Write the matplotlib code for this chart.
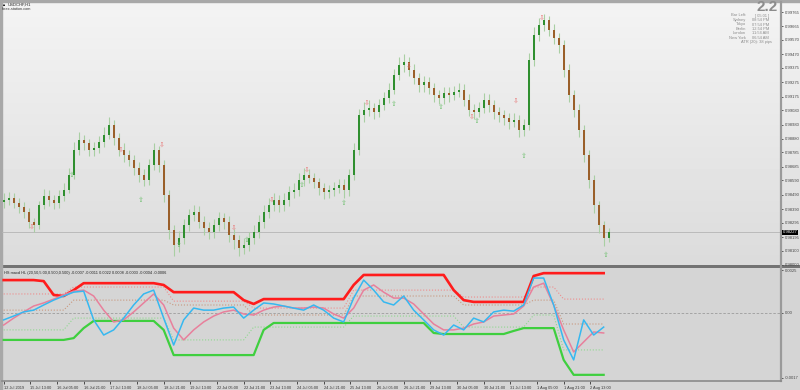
import numpy as np
import matplotlib
matplotlib.use("Agg")
from matplotlib import pyplot as plt
from matplotlib.patches import Rectangle

plt.rcParams['font.family'] = ['Liberation Sans', 'DejaVu Sans']

# ---- price data (3-hour candles built from the H1 chart), USDCHF ----
close = [0.98453, 0.98467, 0.98432, 0.98404, 0.98369, 0.98299, 0.98279, 0.98418, 0.98481, 0.98453,
         0.98432, 0.98481, 0.98523, 0.98628, 0.98802, 0.98872, 0.98851, 0.98802, 0.98816, 0.98858,
         0.98907, 0.98977, 0.98886, 0.98802, 0.98767, 0.98732, 0.98676, 0.98628, 0.98593, 0.98697,
         0.98802, 0.98697, 0.98488, 0.98244, 0.98139, 0.98188, 0.98279, 0.98348, 0.98369, 0.98299,
         0.98258, 0.98230, 0.98279, 0.98327, 0.98299, 0.98209, 0.98174, 0.98118, 0.98139, 0.98188,
         0.98230, 0.98299, 0.98369, 0.98418, 0.98453, 0.98418, 0.98453, 0.98509, 0.98523, 0.98593,
         0.98628, 0.98607, 0.98579, 0.98537, 0.98509, 0.98523, 0.98537, 0.98558, 0.98523, 0.98628,
         0.98802, 0.99046, 0.99081, 0.99095, 0.99067, 0.99116, 0.99165, 0.99221, 0.99326, 0.99395,
         0.99416, 0.99360, 0.99305, 0.99256, 0.99277, 0.99235, 0.99186, 0.99165, 0.99200, 0.99186,
         0.99207, 0.99221, 0.99151, 0.99081, 0.99067, 0.99095, 0.99151, 0.99116, 0.99067, 0.99046,
         0.99025, 0.98997, 0.99011, 0.98942, 0.98977, 0.99430, 0.99605, 0.99675, 0.99709, 0.99639,
         0.99584, 0.99535, 0.99360, 0.99186, 0.99081, 0.98942, 0.98767, 0.98593, 0.98418, 0.98279,
         0.98188, 0.98227]
high = [0.98500, 0.98510, 0.98505, 0.98470, 0.98440, 0.98400, 0.98330, 0.98450, 0.98530, 0.98520,
        0.98490, 0.98520, 0.98570, 0.98680, 0.98860, 0.98930, 0.98910, 0.98880, 0.98860, 0.98900,
        0.98960, 0.99030, 0.99010, 0.98920, 0.98850, 0.98800, 0.98770, 0.98720, 0.98670, 0.98740,
        0.98850, 0.98830, 0.98730, 0.98520, 0.98280, 0.98240, 0.98320, 0.98390, 0.98420, 0.98410,
        0.98340, 0.98300, 0.98320, 0.98370, 0.98360, 0.98340, 0.98250, 0.98210, 0.98190, 0.98230,
        0.98280, 0.98350, 0.98420, 0.98470, 0.98500, 0.98490, 0.98500, 0.98550, 0.98570, 0.98640,
        0.98680, 0.98670, 0.98640, 0.98610, 0.98570, 0.98560, 0.98580, 0.98600, 0.98600, 0.98670,
        0.98850, 0.99090, 0.99140, 0.99150, 0.99130, 0.99160, 0.99210, 0.99270, 0.99370, 0.99450,
        0.99470, 0.99450, 0.99400, 0.99340, 0.99320, 0.99310, 0.99270, 0.99220, 0.99240, 0.99240,
        0.99250, 0.99270, 0.99260, 0.99190, 0.99120, 0.99140, 0.99200, 0.99190, 0.99150, 0.99100,
        0.99080, 0.99060, 0.99060, 0.99050, 0.99020, 0.99480, 0.99660, 0.99720, 0.99750, 0.99740,
        0.99680, 0.99620, 0.99570, 0.99400, 0.99220, 0.99120, 0.98980, 0.98800, 0.98630, 0.98450,
        0.98310, 0.98260]
low = [0.98400, 0.98420, 0.98395, 0.98365, 0.98330, 0.98260, 0.98230, 0.98250, 0.98390, 0.98410,
       0.98390, 0.98400, 0.98450, 0.98500, 0.98600, 0.98770, 0.98800, 0.98760, 0.98760, 0.98780,
       0.98820, 0.98880, 0.98840, 0.98760, 0.98720, 0.98690, 0.98630, 0.98580, 0.98550, 0.98560,
       0.98660, 0.98650, 0.98440, 0.98180, 0.98060, 0.98090, 0.98150, 0.98240, 0.98310, 0.98260,
       0.98210, 0.98180, 0.98190, 0.98240, 0.98250, 0.98160, 0.98110, 0.98060, 0.98080, 0.98100,
       0.98150, 0.98190, 0.98260, 0.98330, 0.98380, 0.98370, 0.98380, 0.98410, 0.98470, 0.98480,
       0.98550, 0.98570, 0.98540, 0.98490, 0.98460, 0.98470, 0.98480, 0.98500, 0.98470, 0.98480,
       0.98590, 0.98770, 0.99000, 0.99040, 0.99020, 0.99030, 0.99080, 0.99130, 0.99190, 0.99290,
       0.99350, 0.99320, 0.99260, 0.99210, 0.99210, 0.99190, 0.99140, 0.99120, 0.99120, 0.99140,
       0.99150, 0.99170, 0.99110, 0.99040, 0.99020, 0.99030, 0.99060, 0.99070, 0.99020, 0.99000,
       0.98980, 0.98950, 0.98960, 0.98890, 0.98900, 0.98940, 0.99390, 0.99560, 0.99630, 0.99600,
       0.99540, 0.99480, 0.99310, 0.99140, 0.99030, 0.98890, 0.98720, 0.98540, 0.98360, 0.98220,
       0.98130, 0.98160]
first_open = 0.98440

# signal arrows (H1 bar index, price)
sell_h = [17, 70, 95, 138, 161, 182, 218, 243, 281, 307, 323]
sell_p = [0.98265, 0.98802, 0.98837, 0.98258, 0.98453, 0.98662, 0.99130, 0.99388, 0.99032, 0.99144, 0.99723]
buy_h = [41, 82, 105, 146, 179, 204, 234, 262, 284, 312, 361]
buy_p = [0.98628, 0.98453, 0.98139, 0.98174, 0.98558, 0.98432, 0.99123, 0.99102, 0.99004, 0.98760, 0.98069]

price_ticks = [0.99765, 0.99665, 0.99570, 0.99470, 0.99375, 0.99275, 0.99175, 0.99080, 0.98980,
               0.98880, 0.98785, 0.98685, 0.98590, 0.98490, 0.98390, 0.98295, 0.98195, 0.98100, 0.98000]

date_labels = ["12 Jul 2019", "15 Jul 13:00", "16 Jul 05:00", "16 Jul 21:00", "17 Jul 13:00",
               "18 Jul 05:00", "18 Jul 21:00", "19 Jul 13:00", "22 Jul 05:00", "22 Jul 21:00",
               "23 Jul 13:00", "24 Jul 05:00", "24 Jul 21:00", "25 Jul 13:00", "26 Jul 05:00",
               "26 Jul 21:00", "29 Jul 13:00", "30 Jul 05:00", "30 Jul 21:00", "31 Jul 13:00",
               "1 Aug 05:00", "1 Aug 21:00", "2 Aug 13:00"]

# ---- indicator (one value every 6 H1 bars) ----
band_hi = [0.00211, 0.00211, 0.00211, 0.00211, 0.00207, 0.00153, 0.00149, 0.00172, 0.00199, 0.00199,
           0.00199, 0.00199, 0.00199, 0.00199, 0.00199, 0.00199, 0.00192, 0.00164, 0.00164, 0.00164,
           0.00164, 0.00164, 0.00164, 0.00164, 0.00133, 0.00118, 0.00137, 0.00137, 0.00137, 0.00137,
           0.00137, 0.00137, 0.00137, 0.00137, 0.00137, 0.00192, 0.00231, 0.00231, 0.00231, 0.00231,
           0.00231, 0.00231, 0.00231, 0.00231, 0.00231, 0.00172, 0.00133, 0.00126, 0.00126, 0.00126,
           0.00126, 0.00126, 0.00126, 0.00227, 0.00238, 0.00238, 0.00238, 0.00238, 0.00238, 0.00238,
           0.00238]
band_lo = [-0.00022, -0.00022, -0.00022, -0.00022, -0.00022, -0.00022, -0.00022, -0.00015, 0.00024, 0.00052,
           0.00052, 0.00052, 0.00052, 0.00052, 0.00052, 0.00052, 0.00017, -0.00081, -0.00081, -0.00081,
           -0.00081, -0.00081, -0.00081, -0.00081, -0.00081, -0.00081, 0.00017, 0.00044, 0.00044, 0.00044,
           0.00044, 0.00044, 0.00044, 0.00044, 0.00044, 0.00044, 0.00044, 0.00044, 0.00044, 0.00044,
           0.00044, 0.00044, 0.00044, 0.00005, 0.00001, 0.00001, 0.00001, 0.00001, 0.00001, 0.00001,
           0.00001, 0.00013, 0.00024, 0.00024, 0.00024, 0.00024, -0.00100, -0.00158, -0.00158, -0.00158,
           -0.00158]
fast = [0.00056, 0.00071, 0.00087, 0.00094, 0.00114, 0.00133, 0.00149, 0.00164, 0.00168, 0.00056,
        -0.00003, 0.00017, 0.00063, 0.00114, 0.00157, 0.00172, 0.00063, -0.00042, 0.00056, 0.00102,
        0.00094, 0.00094, 0.00102, 0.00106, 0.00063, 0.00094, 0.00122, 0.00118, 0.00110, 0.00102,
        0.00094, 0.00114, 0.00094, 0.00063, 0.00048, 0.00141, 0.00211, 0.00172, 0.00126, 0.00114,
        0.00149, 0.00094, 0.00056, 0.00017, -0.00003, 0.00036, 0.00017, 0.00063, 0.00048, 0.00087,
        0.00094, 0.00090, 0.00114, 0.00219, 0.00219, 0.00114, -0.00022, -0.00100, 0.00056, -0.00003,
        0.00028]
slow = [0.00036, 0.00063, 0.00087, 0.00110, 0.00122, 0.00137, 0.00153, 0.00168, 0.00172, 0.00149,
        0.00094, 0.00048, 0.00056, 0.00087, 0.00122, 0.00157, 0.00114, 0.00024, -0.00022, 0.00017,
        0.00048, 0.00071, 0.00087, 0.00094, 0.00079, 0.00075, 0.00094, 0.00106, 0.00110, 0.00102,
        0.00102, 0.00106, 0.00102, 0.00079, 0.00063, 0.00102, 0.00172, 0.00192, 0.00164, 0.00141,
        0.00141, 0.00118, 0.00079, 0.00040, 0.00017, 0.00017, 0.00024, 0.00040, 0.00048, 0.00071,
        0.00075, 0.00079, 0.00110, 0.00184, 0.00199, 0.00114, 0.00017, -0.00069, -0.00030, 0.00009,
        0.00005]
lvl_up = [0.00157] * 7 + [0.00184] * 10 + [0.00129] * 8 + [0.00102] * 10 + [0.00172] * 11 + [0.00145] * 7 + [0.00184] * 3 + [0.00137] * 5
lvl_mid = [0.00094] * 7 + [0.00133] * 10 + [0.00114] * 8 + [0.00075] * 10 + [0.00149] * 11 + [0.00114] * 7 + [0.00133] * 3 + [0.00040] * 5
lvl_dn = [0.00017] * 7 + [0.00063] * 10 + [-0.00022] * 8 + [0.00028] * 10 + [0.00071] * 11 + [0.00028] * 7 + [0.00075] * 3 + [-0.00061] * 5
zero_level = 0.00083

W, H = 800, 390
fig = plt.figure(figsize=(8, 3.9), dpi=100)


def px(x, y):
    return x / W, 1 - y / H


# background: gradient price window, separator, flat indicator window
shade = np.concatenate([np.linspace(0.955, 0.86, 265), np.full(3, 0.45), np.full(H - 268, 0.835)])
bg = fig.add_axes([0, 0, 1, 1], zorder=-5)
bg.imshow(shade[:, None], cmap='gray', vmin=0, vmax=1, aspect='auto', extent=[0, 1, 0, 1])
bg.axis('off')
bg.add_patch(Rectangle((0, 0), 2 / W, 1, color='#a8a8a8', transform=bg.transAxes))
bg.add_patch(Rectangle((0, 1 - 2 / H), 1, 2 / H, color='#a8a8a8', transform=bg.transAxes))

xmin, xmax = -1.0, 466.4
small = 3.0

# ---- price window ----
ax = fig.add_axes([2 / W, 1 - 265 / H, 779 / W, 263 / H])
ax.set_facecolor('none')
opens = [first_open] + close[:-1]
hx = np.arange(len(close)) * 3
ax.vlines(hx, low, high, color='#a9cfa3', lw=0.8, zorder=2)
for x, o, c in zip(hx, opens, close):
    col = '#2f8f2f' if c >= o else '#9a5f2a'
    ax.add_patch(Rectangle((x - 0.6, min(o, c)), 1.2, max(abs(c - o), 0.00004), color=col, lw=0, zorder=3))
for x, p in zip(sell_h, sell_p):
    ax.text(x, p, '\u21e9', family='DejaVu Sans', fontsize=5, color='#e87878', ha='center', va='center', zorder=4)
for x, p in zip(buy_h, buy_p):
    ax.text(x, p, '\u21e7', family='DejaVu Sans', fontsize=5, color='#6cbf6c', ha='center', va='center', zorder=4)
ax.axhline(close[-1], color='#b4b4b4', lw=0.6, zorder=1)

ax.set_xlim(xmin, xmax)
ax.set_ylim(0.98000, 0.99835)
ax.yaxis.tick_right()
ax.set_yticks(price_ticks)
ax.set_yticklabels(['%.5f' % v for v in price_ticks])
ax.tick_params(axis='y', length=1.5, width=0.6, pad=1, labelsize=small, colors='#444444')
ax.set_xticks([])
for s in ['top', 'left', 'bottom']:
    ax.spines[s].set_visible(False)
ax.spines['right'].set_color('#9a9a9a')
ax.spines['right'].set_linewidth(1.6)
ax.text(1.002, close[-1], '%.5f' % close[-1], transform=ax.get_yaxis_transform(), fontsize=small,
        color='white', va='center', ha='left', bbox=dict(boxstyle='square,pad=0.2', fc='black', ec='none'))

# header texts
fig.text(*px(3, 4.5), '\u25a0', fontsize=2.5, color='black', va='center')
fig.text(*px(8, 4.5), 'USDCHF,H1', fontsize=small, color='#222222', va='center')
fig.text(*px(2, 8.5), 'forex-station.com', fontsize=2.8, color='#333333', va='center')
fig.text(*px(778, 7), '2.2', fontsize=11, fontweight='bold', color='#8c8c8c', ha='right', va='center')
info_keys = ['Bar Left:', 'Sydney', 'Tokyo', 'Berlin', 'London', 'New York']
info_vals = ['[ 05:01 ]', '08:54 PM', '07:54 PM', '12:54 PM', '11:54 AM', '06:54 AM']
for i, (k, v) in enumerate(zip(info_keys, info_vals)):
    y = 15.5 + i * 4.5
    fig.text(*px(746, y), k, fontsize=2.9, color='#8c8c8c', ha='right', va='center')
    fig.text(*px(769, y), v, fontsize=2.9, color='#8c8c8c', ha='right', va='center')
fig.text(*px(772, 42.5), 'ATR (20): 38 pips', fontsize=2.9, color='#8c8c8c', ha='right', va='center')

# ---- indicator window ----
ax2 = fig.add_axes([2 / W, 1 - 381 / H, 779 / W, 114 / H])
ax2.set_facecolor('none')
ix = np.arange(len(fast)) * 6
ax2.axhline(zero_level, color='#9c9c9c', lw=0.6, ls=(0, (3, 2)), zorder=1)
ax2.plot(ix, lvl_dn, color='#8fd88f', lw=0.8, ls=':', zorder=2)
ax2.plot(ix, lvl_mid, color='#c8987f', lw=0.8, ls=':', zorder=2)
ax2.plot(ix, lvl_up, color='#ee8c8c', lw=0.8, ls=':', zorder=2)
ax2.plot(ix, band_lo, color='#3fcf3f', lw=1.6, zorder=3)
ax2.plot(ix, band_hi, color='#ff1c1c', lw=1.9, zorder=3)
ax2.plot(ix, slow, color='#e8809c', lw=1.1, zorder=4)
ax2.plot(ix, fast, color='#36b8f0', lw=1.1, zorder=5)

ax2.set_xlim(xmin, xmax)
ax2.set_ylim(-0.00182, 0.00262)
ax2.yaxis.tick_right()
ax2.set_yticks([0.0025, zero_level, -0.0017])
ax2.set_yticklabels(['0.0025', '0.00', '-0.0017'])
ax2.tick_params(axis='y', length=1.5, width=0.6, pad=1, labelsize=small, colors='#444444')
ax2.set_xticks(np.arange(len(date_labels)) * 16)
ax2.set_xticklabels(date_labels, ha='left')
ax2.tick_params(axis='x', length=2.5, width=0.6, pad=1, labelsize=2.8, colors='#333333')
for s in ['top', 'left']:
    ax2.spines[s].set_visible(False)
ax2.spines['right'].set_color('#9a9a9a')
ax2.spines['right'].set_linewidth(1.6)
ax2.spines['bottom'].set_color('#8a8a8a')
ax2.spines['bottom'].set_linewidth(1.2)
ax2.text(0.002, 0.0024, 'HS maxd HL (20,50,5.00,0.500,0.500) -0.0007 -0.0011 0.0022 0.0008 -0.0003 -0.0004 -0.0006',
         transform=ax2.get_yaxis_transform(), fontsize=2.8, color='#222222', va='center', ha='left', zorder=6)

fig.savefig('out.png', dpi=100)
